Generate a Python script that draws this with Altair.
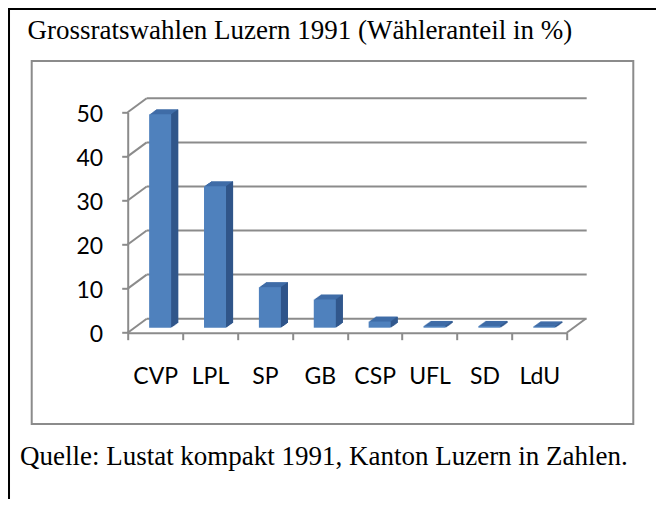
import altair as alt
import pandas as pd

# ---- data ----
parties = ["CVP", "LPL", "SP", "GB", "CSP", "UFL", "SD", "LdU"]
shares = [48.4, 32.1, 9.2, 6.4, 1.4, 0.4, 0.4, 0.3]
y_ticks = [0, 10, 20, 30, 40, 50]
title_text = ["Grossratswahlen Luzern 1991 (Wähleranteil in %)"]
source_text = ["Quelle: Lustat kompakt 1991, Kanton Luzern in Zahlen."]

# ---- layout / style ----
W, H = 439, 220.4
DX, DY = 19, -14          # depth of back wall
BX0, BY0 = 5, -5          # bar front-face shift (mid depth)
BD = 7                    # bar depth (x)
BR = -5 / 7               # bar depth slope
BAR_W = 22
GRAY = "#8B8B8B"
FRONT = "#4F81BD"
TOP = "#3F6CA7"
SIDE = "#30568A"
LABEL_FONT = "Lato"
SERIF = "Liberation Serif"

bars = pd.DataFrame({"party": parties, "share": shares})
ticks = pd.DataFrame({"v": y_ticks})
one = pd.DataFrame({"k": [0]})
title_df = pd.DataFrame({"t": title_text})
source_df = pd.DataFrame({"t": source_text})

x_scale = alt.Scale(domain=parties, paddingInner=0, paddingOuter=0)
y_scale = alt.Scale(domain=[0, 50], nice=False)


def xenc(axis=True):
    if axis:
        return alt.X("party:N", sort=parties, scale=x_scale, title=None,
                     axis=alt.Axis(labelAngle=0, labelAlign="center", tickBand="extent"))
    return alt.X("party:N", sort=parties, scale=x_scale, title=None)


def yenc(axis=False):
    if axis:
        return alt.Y("share:Q", scale=y_scale, title=None,
                     axis=alt.Axis(values=y_ticks))
    return alt.Y("share:Q", scale=y_scale, title=None)


# back wall gridlines
grid = alt.Chart(ticks).mark_rule(color=GRAY, strokeWidth=2, yOffset=DY).encode(
    y=alt.Y("v:Q", scale=y_scale, title=None),
    x=alt.value(DX), x2=alt.value(W + DX + 1),
)
# diagonals from front axis to back wall
diag = alt.Chart(ticks).mark_rule(color=GRAY, strokeWidth=2, y2Offset=DY).encode(
    y=alt.Y("v:Q", scale=y_scale, title=None),
    y2=alt.Y2("v:Q"),
    x=alt.value(0), x2=alt.value(DX),
)
floor_right = alt.Chart(one).mark_rule(color=GRAY, strokeWidth=2, y2Offset=DY).encode(
    y=alt.Y(datum=0, scale=y_scale, title=None),
    y2=alt.Y2(datum=0),
    x=alt.value(W), x2=alt.value(W + DX),
)

# frames
inner_frame = alt.Chart(one).mark_rect(fill="white", fillOpacity=0, stroke=GRAY, strokeWidth=2).encode(
    x=alt.value(-96), x2=alt.value(505.6), y=alt.value(-51.3), y2=alt.value(311.7)
)
outer_frame = alt.Chart(one).mark_rect(fill="white", fillOpacity=0, stroke="black", strokeWidth=2).encode(
    x=alt.value(-118.7), x2=alt.value(600), y=alt.value(-103.3), y2=alt.value(450)
)

title = alt.Chart(title_df).mark_text(align="left", baseline="alphabetic", font=SERIF,
                                      fontSize=27, color="black").encode(
    x=alt.value(-100.2), y=alt.value(-73), text="t:N"
)
source = alt.Chart(source_df).mark_text(align="left", baseline="alphabetic", font=SERIF,
                                        fontSize=27, color="black").encode(
    x=alt.value(-107.7), y=alt.value(352.7), text="t:N"
)

layers = [outer_frame, inner_frame, title, source, grid, diag, floor_right]

# top face: stack of shifted copies
for k in range(1, BD + 1):
    layers.append(
        alt.Chart(bars).mark_bar(width=BAR_W, color=TOP, xOffset=BX0 + k,
                                 yOffset=BY0 + k * BR, y2Offset=BY0 + k * BR).encode(
            x=xenc(False), y=yenc(False)
        )
    )
# side face: narrow columns
for j in range(0, BD):
    off = BX0 + BAR_W / 2 + j + 0.5
    layers.append(
        alt.Chart(bars).mark_bar(width=1.2, color=SIDE, xOffset=off,
                                 yOffset=BY0 + (j + 0.5) * BR, y2Offset=BY0 + (j + 0.5) * BR).encode(
            x=xenc(False), y=yenc(False)
        )
    )
# front face (carries the axes)
front = alt.Chart(bars).mark_bar(width=BAR_W, color=FRONT, xOffset=BX0,
                                 yOffset=BY0, y2Offset=BY0).encode(
    x=xenc(True), y=yenc(True)
)
layers.append(front)

chart = alt.layer(*layers).properties(
    width=W, height=H,
    autosize=alt.AutoSizeParams(type="none"),
    padding={"left": 119.7, "top": 104.3, "right": 89.3, "bottom": 166},
).configure_view(stroke=None).configure_axisX(
    labelFont=LABEL_FONT, labelFontSize=23, labelColor="black", labelPadding=44,
    labelBaseline="alphabetic", labelAlign="center", domainColor=GRAY, domainWidth=2,
    tickColor=GRAY, tickWidth=2, tickSize=7, grid=False,
).configure_axisY(
    labelFont=LABEL_FONT, labelFontSize=23, labelColor="black", labelPadding=19,
    labelBaseline="middle", labelOffset=2, labelFlush=False, domainColor=GRAY,
    domainWidth=2, tickColor=GRAY, tickWidth=2, tickSize=6, grid=False,
)

chart.save("out.html", embed_options={"renderer": "svg", "actions": False})
